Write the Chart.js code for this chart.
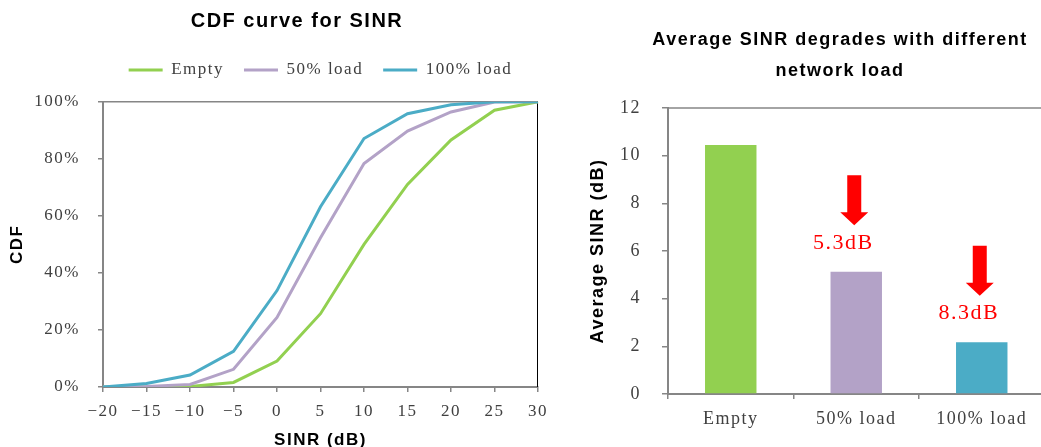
<!DOCTYPE html>
<html>
<head>
<meta charset="utf-8">
<title>SINR vs network load</title>
<script src="https://cdn.jsdelivr.net/npm/chart.js@4.4.1/dist/chart.umd.min.js"></script>
<style>
  html, body { margin: 0; padding: 0; background: #fff; width: 1041px; height: 447px; overflow: hidden; }
  #cdfChart { position: absolute; left: 0; top: 0; }
  #avgChart { position: absolute; left: 580px; top: 0; }
</style>
</head>
<body>
<canvas id="cdfChart" width="594" height="460"></canvas>
<canvas id="avgChart" width="520" height="447"></canvas>
<script>
// CDF data (percent)
var sinrLabels = ['-20', '-15', '-10', '-5', '0', '5', '10', '15', '20', '25', '30'];
var cdfEmpty = [0, 0, 0.2, 1.6, 9.1, 25.7, 50, 71, 86.6, 97, 100];
var cdf50 = [0, 0.2, 0.9, 6.2, 24.4, 52.3, 78.3, 89.7, 96.4, 99.9, 100];
var cdf100 = [0, 1.2, 4.2, 12.5, 33.8, 63.2, 87.1, 95.8, 98.9, 100, 100];

// average SINR (dB) per load
var loadLabels = ['Empty', '50% load', '100% load'];
var avgSinr = [10.45, 5.13, 2.17];

var seriesColors = ['#92D050', '#B3A2C7', '#4BACC6'];
var AXIS = '#868686';
var TEXT = '#404040';
var SANS = '"Liberation Sans", Arial, sans-serif';
var SERIF = '"Liberation Serif", "DejaVu Serif", serif';

function spacing(px) {
	return {
		id: 'spacing',
		beforeUpdate: function(c) { c.ctx.letterSpacing = px; },
		beforeDraw: function(c) { c.ctx.letterSpacing = px; }
	};
}

// top (gray) and right (black) edges of the CDF plot box
var cdfFrame = {
	id: 'cdfFrame',
	beforeDatasetsDraw: function(c) {
		var a = c.chartArea, ctx = c.ctx;
		ctx.save();
		ctx.lineWidth = 1.5;
		ctx.strokeStyle = AXIS;
		ctx.beginPath(); ctx.moveTo(a.left, a.top); ctx.lineTo(a.right, a.top); ctx.stroke();
		ctx.lineWidth = 1;
		ctx.strokeStyle = '#000';
		ctx.beginPath(); ctx.moveTo(a.right - 0.5, a.top); ctx.lineTo(a.right - 0.5, a.bottom); ctx.stroke();
		ctx.restore();
	}
};

var barFrame = {
	id: 'barFrame',
	beforeDatasetsDraw: function(c) {
		var a = c.chartArea, ctx = c.ctx;
		ctx.save();
		ctx.lineWidth = 1.5;
		ctx.strokeStyle = AXIS;
		ctx.beginPath(); ctx.moveTo(a.left, a.top); ctx.lineTo(a.right, a.top); ctx.stroke();
		ctx.restore();
	}
};

// red down arrows with the drop from "Empty"
var dropMarks = {
	id: 'dropMarks',
	afterDatasetsDraw: function(c) {
		var x = c.scales.x, y = c.scales.y, ctx = c.ctx;
		ctx.save();
		ctx.fillStyle = '#FF0000';
		for (var i = 1; i < avgSinr.length; i++) {
			var cx = x.getPixelForValue(i) - 2;
			var tip = y.getPixelForValue(avgSinr[i] + 1.95);
			var top = y.getPixelForValue(avgSinr[i] + 4.05);
			var neck = tip - 13;
			ctx.beginPath();
			ctx.moveTo(cx - 7, top);
			ctx.lineTo(cx + 7, top);
			ctx.lineTo(cx + 7, neck);
			ctx.lineTo(cx + 14, neck);
			ctx.lineTo(cx, tip);
			ctx.lineTo(cx - 14, neck);
			ctx.lineTo(cx - 7, neck);
			ctx.closePath();
			ctx.fill();
			ctx.font = '22px ' + SERIF;
			ctx.textAlign = 'center';
			ctx.textBaseline = 'middle';
			ctx.fillText((avgSinr[0] - avgSinr[i]).toFixed(1) + 'dB', cx - 11, y.getPixelForValue(avgSinr[i] + 1.2));
		}
		ctx.restore();
	}
};

function padAxis(w) {
	return {
		type: 'linear', position: 'right', display: true,
		grid: { display: false }, ticks: { display: false }, border: { display: false },
		afterFit: function(s) { s.width = w; }
	};
}

new Chart(document.getElementById('cdfChart'), {
	type: 'line',
	data: {
		labels: sinrLabels,
		datasets: [
			{ label: 'Empty', data: cdfEmpty, borderColor: seriesColors[0], backgroundColor: seriesColors[0], order: 3 },
			{ label: '50% load', data: cdf50, borderColor: seriesColors[1], backgroundColor: seriesColors[1], order: 2 },
			{ label: '100% load', data: cdf100, borderColor: seriesColors[2], backgroundColor: seriesColors[2], order: 1 }
		]
	},
	options: {
		responsive: false,
		animation: false,
		elements: { line: { borderWidth: 3, tension: 0 }, point: { radius: 0 } },
		plugins: {
			title: {
				display: true, text: 'CDF curve for SINR', color: '#000',
				font: { family: SANS, size: 20, weight: 'bold', lineHeight: 1.2 },
				padding: { top: 9, bottom: 8.5 }
			},
			subtitle: { display: true, text: ' ', weight: 500, font: { size: 1 }, padding: { top: 12, bottom: 0 } },
			legend: {
				fullSize: false,
				labels: {
					boxWidth: 34, boxHeight: 3, padding: 20, color: TEXT,
					font: { family: SERIF, size: 17 },
					sort: function(a, b) { return a.datasetIndex - b.datasetIndex; },
					generateLabels: function(chart) {
						return Chart.defaults.plugins.legend.labels.generateLabels(chart).map(function(l) {
							l.lineWidth = 0;
							return l;
						});
					}
				}
			},
			tooltip: { enabled: false }
		},
		scales: {
			x: {
				grid: { drawOnChartArea: false, tickLength: 5, color: AXIS, lineWidth: 1.5 },
				border: { color: AXIS, width: 2 },
				ticks: {
					color: TEXT, font: { family: SERIF, size: 17 }, padding: 9, maxRotation: 0, autoSkip: false,
					callback: function(v, i) { return sinrLabels[i].replace('-', '\u2212'); }
				},
				title: {
					display: true, text: 'SINR (dB)', color: '#000',
					font: { family: SANS, size: 17, weight: 'bold' }, padding: { top: 0, bottom: 9 }
				},
				afterFit: function(s) { s.height = 73; }
			},
			y: {
				min: 0, max: 100,
				grid: { drawOnChartArea: false, tickLength: 5, color: AXIS, lineWidth: 1.5 },
				border: { color: AXIS, width: 2 },
				ticks: {
					stepSize: 20, color: TEXT, font: { family: SERIF, size: 17 }, padding: 18,
					callback: function(v) { return v + '%'; }
				},
				title: {
					display: true, text: 'CDF', color: '#000',
					font: { family: SANS, size: 17, weight: 'bold' }, padding: { top: 7, bottom: 0 }
				},
				afterFit: function(s) { s.width = 103; }
			},
			pad: padAxis(56)
		}
	},
	plugins: [spacing('1.5px'), cdfFrame]
});

new Chart(document.getElementById('avgChart'), {
	type: 'bar',
	data: {
		labels: loadLabels,
		datasets: [{ data: avgSinr, backgroundColor: seriesColors, categoryPercentage: 1, barPercentage: 0.41 }]
	},
	options: {
		responsive: false,
		animation: false,
		plugins: {
			legend: { display: false },
			tooltip: { enabled: false },
			title: {
				display: true, text: ['Average SINR degrades with different', 'network load'], color: '#000',
				font: { family: SANS, size: 18, weight: 'bold', lineHeight: '31px' },
				padding: { top: 24.5, bottom: 21.5 }
			}
		},
		scales: {
			x: {
				grid: { offset: true, drawOnChartArea: false, tickLength: 5, color: AXIS, lineWidth: 1.5 },
				border: { color: AXIS, width: 2 },
				ticks: { color: TEXT, font: { family: SERIF, size: 18 }, padding: 9 },
				afterFit: function(s) { s.height = 53; }
			},
			y: {
				min: 0, max: 12,
				grid: { drawOnChartArea: false, tickLength: 6, color: AXIS, lineWidth: 1.5 },
				border: { color: AXIS, width: 2 },
				ticks: { stepSize: 2, color: TEXT, font: { family: SERIF, size: 18 }, padding: 21 },
				title: {
					display: true, text: 'Average SINR (dB)', color: '#000',
					font: { family: SANS, size: 18, weight: 'bold' }, padding: { top: 7, bottom: 0 }
				},
				afterFit: function(s) { s.width = 88; }
			},
			pad: padAxis(55.5)
		}
	},
	plugins: [spacing('1.5px'), barFrame, dropMarks]
});
</script>
</body>
</html>
